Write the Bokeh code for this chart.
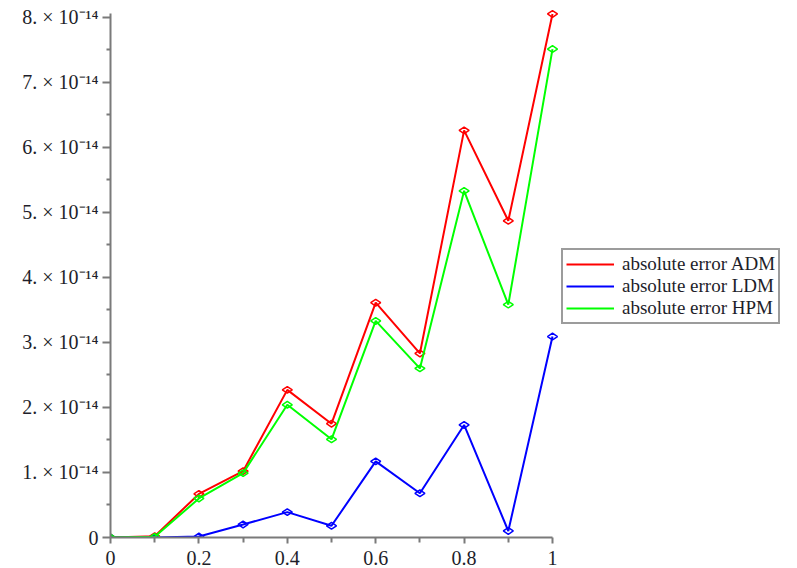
import math
from bokeh.plotting import figure
from bokeh.models import Range1d, Legend, LegendItem, FixedTicker
from bokeh.embed import file_html
from bokeh.resources import INLINE

# data (units of 1e-14)
x_vals = [0.0, 0.1, 0.2, 0.3, 0.4, 0.5, 0.6, 0.7, 0.8, 0.9, 1.0]
adm = [0.0, 0.02, 0.67, 1.02, 2.27, 1.75, 3.61, 2.83, 6.26, 4.87, 8.05]
ldm = [0.0, 0.0, 0.015, 0.20, 0.39, 0.18, 1.17, 0.68, 1.73, 0.10, 3.09]
hpm = [0.0, 0.01, 0.60, 0.99, 2.04, 1.51, 3.33, 2.60, 5.33, 3.58, 7.51]
series_names = ["absolute error ADM", "absolute error LDM", "absolute error HPM"]
series_colors = ["#ff0000", "#0000ff", "#00ff00"]
x_ticks = [0.0, 0.2, 0.4, 0.6, 0.8, 1.0]
x_tick_labels = ["0", "0.2", "0.4", "0.6", "0.8", "1"]
y_ticks = [0, 1, 2, 3, 4, 5, 6, 7, 8]
y_tick_labels = ["0"] + [f"{k}. \u00d7 10\u207b\u00b9\u2074" for k in range(1, 9)]

SCALE = 1e-14

p = figure(width=797, height=568, output_backend="svg", toolbar_location=None,
           x_range=Range1d(0, 1.5543),
           y_range=Range1d(0, 8.2568 * SCALE),
           min_border_left=110, min_border_right=0, min_border_top=0,
           min_border_bottom=31)
p.outline_line_color = None
p.grid.visible = False
p.background_fill_color = "white"

FONT = "Liberation Serif"
for ax in (p.xaxis[0], p.yaxis[0]):
    ax.axis_line_color = "#7a7a7a"
    ax.axis_line_width = 2
    ax.major_tick_line_color = "#7a7a7a"
    ax.minor_tick_line_color = "#7a7a7a"
    ax.major_tick_line_width = 2
    ax.minor_tick_line_width = 2
    ax.major_tick_in = 0
    ax.minor_tick_in = 0
    ax.major_label_text_font = FONT
    ax.major_label_text_color = "#1e1e2a"

p.xaxis[0].ticker = FixedTicker(ticks=x_ticks,
                                minor_ticks=[v for v in x_vals if v not in x_ticks])
p.xaxis[0].major_label_overrides = {t: l for t, l in zip(x_ticks, x_tick_labels)}
p.xaxis[0].major_label_text_font_size = "20px"
p.xaxis[0].major_tick_out = 6
p.xaxis[0].minor_tick_out = 5
p.xaxis[0].major_label_standoff = 7
p.xaxis[0].bounds = (0, 1)

yt = [v * SCALE for v in y_ticks]
p.yaxis[0].ticker = FixedTicker(ticks=yt, minor_ticks=[(v + 0.5) * SCALE for v in y_ticks[:-1]])
p.yaxis[0].major_label_overrides = {t: l for t, l in zip(yt, y_tick_labels)}
p.yaxis[0].major_label_text_font_size = "20px"
p.yaxis[0].major_tick_out = 8
p.yaxis[0].minor_tick_out = 4
p.yaxis[0].major_label_standoff = 4
p.yaxis[0].bounds = (0, 8.05 * SCALE)

items = []
for name, col, vals in zip(series_names, series_colors, [adm, ldm, hpm]):
    yv = [v * SCALE for v in vals]
    r = p.line(x_vals, yv, line_color=col, line_width=2)
    p.scatter(x_vals, yv, marker="diamond", size=10, angle=math.pi / 2,
              fill_color=None, line_color=col, line_width=1.5)
    items.append(LegendItem(label=name, renderers=[r]))

legend = Legend(items=items, location=(451, 213), label_text_font=FONT,
                label_text_font_size="19px", label_text_color="#1e1e2a",
                border_line_color="#3a3a3a", border_line_width=2,
                background_fill_alpha=1, padding=3, spacing=0, margin=0,
                label_height=20, glyph_height=20, glyph_width=48,
                label_standoff=8)
p.add_layout(legend, "center")

open("out.html", "w").write(file_html(p, INLINE))
